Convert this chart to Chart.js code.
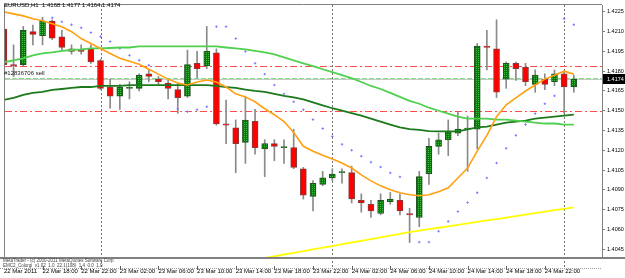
<!DOCTYPE html>
<html>
<head>
<meta charset="utf-8">
<script src="https://cdn.jsdelivr.net/npm/chart.js@4.4.1/dist/chart.umd.min.js"></script>
<style>
  html, body { margin: 0; padding: 0; background: #fff; }
  canvas { display: block; }
</style>
</head>
<body>
<canvas id="chart" width="625" height="278"></canvas>
<script>
// EURUSD H1, 22 Mar 14:00 .. 25 Mar 01:00 (one entry per bar)
const open = [1.4212,1.4185,1.4185,1.4210,1.4207,1.4218,1.4206,1.4197,1.4196,1.4197,
  1.4188,1.4168,1.4161,1.4167,1.4167,1.4178,1.4174,1.4171,1.4166,1.4161,
  1.4186,1.4184,1.4194,1.4140,1.4137,1.4126,1.4142,1.4121,1.4125,1.4122,
  1.4122,1.4106,1.4085,1.4094,1.4099,1.4103,1.4103,1.4082,1.4079,1.4072,
  1.4081,1.4082,1.4072,1.4069,1.4102,1.4123,1.4128,1.4133,1.4136,1.4136,
  1.4199,1.4197,1.4174,1.4186,1.4183,1.4170,1.4174,1.4172,1.4178,1.4168];
const high = [1.4219,1.4200,1.4214,1.4215,1.4221,1.4219,1.4211,1.4200,1.4200,1.4200,
  1.4189,1.4174,1.4170,1.4172,1.4178,1.4181,1.4176,1.4173,1.4171,1.4196,
  1.4195,1.4214,1.4197,1.4158,1.4143,1.4161,1.4151,1.4128,1.4128,1.4128,
  1.4136,1.4107,1.4097,1.4104,1.4106,1.4106,1.4108,1.4087,1.4082,1.4087,
  1.4088,1.4087,1.4076,1.4104,1.4129,1.4133,1.4143,1.4149,1.4146,1.4201,
  1.4211,1.4219,1.4187,1.4187,1.4186,1.4181,1.4178,1.4181,1.4180,1.4177];
const low = [1.4183,1.4176,1.4184,1.4200,1.4200,1.4204,1.4196,1.4193,1.4193,1.4186,
  1.4166,1.4152,1.4151,1.4159,1.4165,1.4172,1.4170,1.4159,1.4148,1.4160,
  1.4175,1.4182,1.4139,1.4125,1.4103,1.4110,1.4117,1.4100,1.4112,1.4110,
  1.4106,1.4083,1.4074,1.4093,1.4097,1.4095,1.4080,1.4073,1.4069,1.4071,
  1.4079,1.4071,1.4050,1.4062,1.4094,1.4117,1.4116,1.4131,1.4104,1.4121,
  1.4181,1.4160,1.4167,1.4173,1.4169,1.4164,1.4166,1.4169,1.4148,1.4164];
const close = [1.4185,1.4184,1.4211,1.4208,1.4218,1.4205,1.4198,1.4195,1.4195,1.4187,
  1.4167,1.4161,1.4168,1.4167,1.4177,1.4176,1.4172,1.4167,1.4160,1.4185,
  1.4182,1.4195,1.4140,1.4139,1.4125,1.4143,1.4122,1.4125,1.4123,1.4122,
  1.4107,1.4086,1.4095,1.4099,1.4102,1.4103,1.4083,1.4080,1.4074,1.4082,
  1.4083,1.4074,1.4071,1.4100,1.4123,1.4128,1.4134,1.4136,1.4136,1.4199,
  1.4198,1.4164,1.4186,1.4182,1.4172,1.4177,1.4170,1.4178,1.4168,1.4174];

// indicator lines
const maOrange = [1.42250,1.42235,1.42220,1.42198,1.42183,1.42160,1.42138,1.42100,1.42048,1.42010,
  1.41973,1.41935,1.41898,1.41875,1.41853,1.41815,1.41778,1.41740,1.41710,1.41695,
  1.41718,1.41733,1.41718,1.41680,1.41628,1.41605,1.41568,1.41515,1.41470,1.41418,
  1.41335,1.41230,1.41193,1.41163,1.41133,1.41103,1.41065,1.41013,1.40968,1.40930,
  1.40900,1.40878,1.40863,1.40855,1.40863,1.40885,1.40915,1.40990,1.41065,1.41193,
  1.41313,1.41455,1.41545,1.41598,1.41650,1.41695,1.41740,1.41770,1.41800,1.41778];
const maLight = [1.41868,1.41883,1.41898,1.41920,1.41935,1.41943,1.41954,1.41961,1.41965,1.41973,
  1.41973,1.41976,1.41980,1.41980,1.41988,1.41988,1.41988,1.41988,1.41988,1.41988,
  1.41988,1.41988,1.41988,1.41980,1.41973,1.41965,1.41954,1.41943,1.41928,1.41905,
  1.41883,1.41860,1.41838,1.41815,1.41793,1.41770,1.41748,1.41718,1.41688,1.41665,
  1.41635,1.41605,1.41575,1.41553,1.41523,1.41500,1.41478,1.41455,1.41440,1.41440,
  1.41440,1.41433,1.41433,1.41425,1.41418,1.41410,1.41403,1.41403,1.41395,1.41395];
const maDark = [1.41583,1.41598,1.41620,1.41635,1.41643,1.41658,1.41665,1.41673,1.41680,1.41680,
  1.41688,1.41688,1.41688,1.41695,1.41695,1.41695,1.41695,1.41695,1.41695,1.41695,
  1.41695,1.41695,1.41688,1.41680,1.41673,1.41661,1.41650,1.41643,1.41628,1.41613,
  1.41601,1.41586,1.41564,1.41541,1.41519,1.41500,1.41481,1.41463,1.41440,1.41418,
  1.41395,1.41373,1.41361,1.41354,1.41346,1.41343,1.41343,1.41343,1.41358,1.41373,
  1.41380,1.41395,1.41410,1.41418,1.41425,1.41440,1.41448,1.41455,1.41463,1.41470];
const maYellow = Array(27).fill(null).concat([1.40383,1.40395,1.40409,
  1.40422,1.40434,1.40448,1.40461,1.40473,1.40487,1.40500,1.40513,1.40526,1.40539,
  1.40552,1.40565,1.40578,1.40590,1.40601,1.40612,1.40623,1.40634,1.40645,1.40656,
  1.40668,1.40678,1.40689,1.40700,1.40712,1.40723,1.40734,1.40745,1.40756,1.40767]);
const sar = [null,null,null,null,null,1.42205,1.42175,1.42153,1.42130,1.42093,
  1.42063,1.42025,1.41973,1.41920,1.41883,1.41845,null,null,1.41515,1.41493,
  1.41508,1.41530,1.42138,1.42138,1.42048,1.41950,1.41860,1.41778,1.41695,1.41628,
  1.41568,1.41508,1.41433,1.41365,1.41305,1.41245,1.41200,1.41155,1.41110,1.41073,
  1.41028,1.40998,null,1.40503,1.40503,1.40585,1.40660,1.40735,1.40803,1.40878,
  1.40990,1.41103,1.41215,1.41313,1.41395,1.41478,1.41553,1.41613,1.42198,1.42153];

const tickBars = [0,4,8,12,16,20,24,28,32,36,40,44,48,52,56];
const tickLabels = ['22 Mar 2011','22 Mar 18:00','22 Mar 22:00','23 Mar 02:00','23 Mar 06:00',
  '23 Mar 10:00','23 Mar 14:00','23 Mar 18:00','23 Mar 22:00','24 Mar 02:00','24 Mar 06:00',
  '24 Mar 10:00','24 Mar 14:00','24 Mar 18:00','24 Mar 22:00'];
const priceTicks = [1.4045,1.4060,1.4075,1.4090,1.4105,1.4120,1.4135,1.4150,1.4165,1.4180,1.4195,1.4210,1.4225];
const daySeparators = [10, 34, 58];
const stopLines = [1.4184, 1.4150];
const orderLine = 1.4175;
const orderName = '#12836706 sell';
const bid = close[close.length - 1];
const symbol = 'EURUSD,H1';

const FONT = '"Liberation Sans", Arial, sans-serif';

// speckled green for bull candles
function greenPattern(ctx) {
  const c = document.createElement('canvas');
  c.width = 2; c.height = 2;
  const g = c.getContext('2d');
  g.fillStyle = '#08780a'; g.fillRect(0, 0, 2, 2);
  g.fillStyle = '#3fbf3f'; g.fillRect(0, 0, 1, 1);
  return ctx.createPattern(c, 'repeat');
}

const canvas = document.getElementById('chart');
const ctx = canvas.getContext('2d');
const bullFill = greenPattern(ctx);
const pts = arr => arr.map((v, i) => ({x: i, y: v}));

const mtPlugin = {
  id: 'mt',
  beforeDatasetsDraw(chart) {
    const {ctx, chartArea: a, scales: {x, y}} = chart;
    ctx.save();
    ctx.lineWidth = 1;
    // day separators
    ctx.strokeStyle = '#707070';
    ctx.setLineDash([2, 2]);
    daySeparators.forEach(b => {
      const px = Math.round(x.getPixelForValue(b)) + 0.5;
      ctx.beginPath(); ctx.moveTo(px, a.top); ctx.lineTo(px, 268); ctx.stroke();
    });
    ctx.beginPath(); ctx.rect(a.left, a.top, a.right - a.left, a.bottom - a.top); ctx.clip();
    // bid line
    ctx.setLineDash([]);
    ctx.strokeStyle = '#c8c8c8';
    let py = Math.round(y.getPixelForValue(bid)) + 0.5;
    ctx.beginPath(); ctx.moveTo(a.left, py); ctx.lineTo(a.right, py); ctx.stroke();
    // order line
    ctx.strokeStyle = '#7ee07e';
    ctx.setLineDash([5, 2]);
    py = Math.round(y.getPixelForValue(orderLine)) + 0.5;
    ctx.beginPath(); ctx.moveTo(a.left, py); ctx.lineTo(a.right, py); ctx.stroke();
    // stop / target lines
    ctx.strokeStyle = '#ff4c4c';
    ctx.setLineDash([7, 3, 2, 3]);
    stopLines.forEach(v => {
      const p = Math.round(y.getPixelForValue(v)) + 0.5;
      ctx.beginPath(); ctx.moveTo(a.left, p); ctx.lineTo(a.right, p); ctx.stroke();
    });
    ctx.restore();
  },
  afterDraw(chart) {
    const {ctx, chartArea: a, scales: {x, y}} = chart;
    ctx.save();
    ctx.strokeStyle = '#808080';
    ctx.setLineDash([]);
    ctx.lineWidth = 1;
    ctx.beginPath();
    ctx.moveTo(a.left - 0.5, a.bottom); ctx.lineTo(a.left - 0.5, a.top - 0.5); ctx.lineTo(a.right, a.top - 0.5);
    ctx.stroke();
    ctx.lineWidth = 2;
    ctx.beginPath(); ctx.moveTo(0, a.bottom + 1); ctx.lineTo(625, a.bottom + 1); ctx.stroke();

    // title
    const last = open.length - 1;
    ctx.fillStyle = '#000';
    ctx.font = '6px ' + FONT;
    ctx.textBaseline = 'top';
    ctx.fillText(symbol + '  ' + [open[last], high[last], low[last], close[last]].map(v => v.toFixed(4)).join(' '), 4, 2);
    // order label
    ctx.fillStyle = '#202020';
    ctx.textBaseline = 'bottom';
    ctx.fillText(orderName, 4, y.getPixelForValue(orderLine) - 1);

    // bid label
    const by = Math.round(y.getPixelForValue(bid));
    ctx.fillStyle = '#000';
    ctx.fillRect(a.right + 1, by - 5, 23, 10);
    ctx.fillStyle = '#fff';
    ctx.textBaseline = 'middle';
    ctx.font = '5.5px ' + FONT;
    ctx.fillText(bid.toFixed(4), a.right + 5, by);

    // indicator strip
    ctx.fillStyle = '#404040';
    ctx.font = '4.5px ' + FONT;
    ctx.textBaseline = 'top';
    ctx.fillText('MetaTrader - (c) 2000-2011 MetaQuotes Software Corp.', 3, 259);
    ctx.fillText('EMC2_Colorgi  v1.02  1.0  22.1(108)  1.4  0.0  1.0', 3, 263.5);
    ctx.strokeStyle = '#a0a0a0';
    ctx.lineWidth = 1;
    ctx.setLineDash([1, 1]);
    ctx.beginPath(); ctx.moveTo(0, 268.5); ctx.lineTo(a.right, 268.5); ctx.stroke();
    ctx.setLineDash([]);
    ctx.strokeStyle = '#606060';
    tickBars.forEach(b => {
      const px = Math.round(x.getPixelForValue(b)) + 0.5;
      if (px < a.left) return;
      ctx.beginPath(); ctx.moveTo(px, 266); ctx.lineTo(px, 270); ctx.stroke();
    });
    ctx.restore();
  }
};

new Chart(ctx, {
  type: 'bar',
  data: {
    datasets: [
      {type: 'line', data: pts(maOrange), borderColor: '#ffa010', borderWidth: 1.6, pointRadius: 0, tension: 0, order: 0},
      {type: 'line', data: pts(maLight), borderColor: '#4fd04f', borderWidth: 1.8, pointRadius: 0, tension: 0, order: 0},
      {type: 'line', data: pts(maDark), borderColor: '#1c7a1c', borderWidth: 1.8, pointRadius: 0, tension: 0, order: 0},
      {type: 'line', data: pts(maYellow), borderColor: '#ffff00', borderWidth: 1.8, pointRadius: 0, tension: 0, order: 0},
      {type: 'line', data: pts(sar), showLine: false, pointStyle: 'cross', pointRadius: 1.2,
        pointBorderColor: '#7a7aff', pointBorderWidth: 1, order: 0},
      {
        data: open.map((o, i) => ({x: i, y: [o, close[i]]})),
        backgroundColor: c => close[c.dataIndex] >= open[c.dataIndex] ? bullFill : '#ff0000',
        borderColor: c => close[c.dataIndex] >= open[c.dataIndex] ? '#245024' : '#8a3a3a',
        borderWidth: 1, borderSkipped: false, barThickness: 6, minBarLength: 1, grouped: false, order: 1
      },
      {
        data: low.map((l, i) => ({x: i, y: [l, high[i]]})),
        backgroundColor: '#8a8a8a', borderWidth: 0, barThickness: 1, grouped: false, order: 2
      }
    ]
  },
  options: {
    responsive: false,
    animation: false,
    events: [],
    layout: {padding: {left: 2, top: 2, right: 0, bottom: 0}},
    plugins: {legend: {display: false}, tooltip: {enabled: false}},
    scales: {
      x: {
        type: 'linear', min: 0.113, max: 61.918, offset: false,
        afterFit: s => { s.height = 21; s.paddingLeft = 0; s.paddingRight = 0; },
        afterBuildTicks: s => { s.ticks = tickBars.map(v => ({value: v})); },
        grid: {display: true, drawOnChartArea: false, drawTicks: true, tickLength: 11, color: 'rgba(0,0,0,0)'},
        border: {display: false},
        ticks: {
          autoSkip: false, maxRotation: 0, align: 'start', padding: 0,
          color: '#000', font: {family: FONT, size: 6},
          callback: (v, i) => tickLabels[i]
        }
      },
      y: {
        position: 'right', min: 1.4039, max: 1.423025,
        afterFit: s => { s.width = 23; s.paddingTop = 0; s.paddingBottom = 0; },
        afterBuildTicks: s => { s.ticks = priceTicks.map(v => ({value: v})); },
        grid: {drawOnChartArea: false, tickLength: 3, color: '#808080'},
        border: {color: '#808080'},
        ticks: {padding: 2, color: '#000', font: {family: FONT, size: 5.5}, callback: v => v.toFixed(4)}
      }
    }
  },
  plugins: [mtPlugin]
});
</script>
</body>
</html>
